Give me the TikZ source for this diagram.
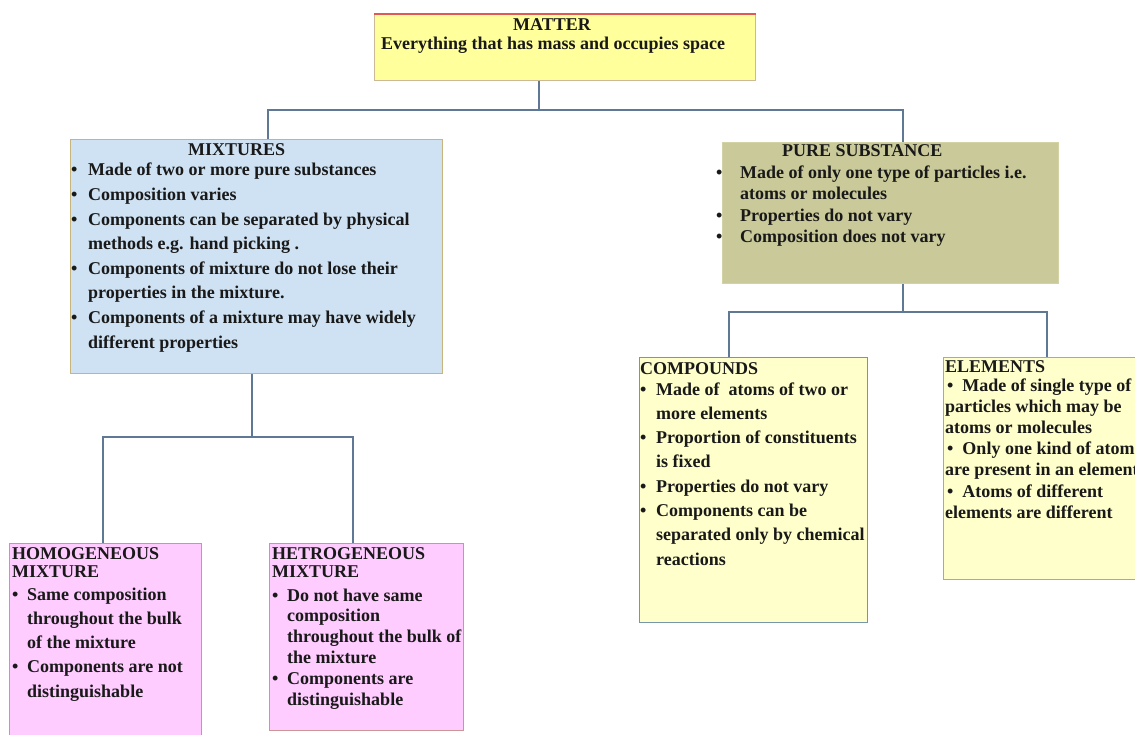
\documentclass[tikz,border=0pt]{standalone}
\usepackage{fontspec}
\setmainfont{Liberation Serif}
\definecolor{matfill}{RGB}{255,255,155}
\definecolor{matdraw}{RGB}{205,185,150}
\definecolor{mattop}{RGB}{225,90,80}
\definecolor{mixfill}{RGB}{207,226,243}
\definecolor{mixdraw}{RGB}{200,180,125}
\definecolor{purefill}{RGB}{201,201,154}
\definecolor{puredraw}{RGB}{210,210,165}
\definecolor{yelfill}{RGB}{255,255,204}
\definecolor{compdraw}{RGB}{120,150,170}
\definecolor{elemdraw}{RGB}{160,170,180}
\definecolor{pinkfill}{RGB}{255,204,255}
\definecolor{pinkdraw}{RGB}{205,150,150}
\definecolor{connc}{RGB}{95,120,150}
\newlength\bw
\newcommand\vl[2]{\vtop{\baselineskip=#1\lineskiplimit=-\maxdimen\lineskip=0pt\relax #2}}
\newcommand\bi[1]{\hbox{\makebox[\bw][l]{\textbullet}#1}}
\newcommand\ci[1]{\hbox{\hspace*{\bw}#1}}
\newcommand\hl[1]{\hbox{#1}}
\tikzset{
  x=1pt, y=-1pt,
  box/.style={rectangle, anchor=north west, inner sep=0pt, line width=1.3pt},
  txt/.style={anchor=base west, inner sep=0pt, font=\fontsize{18}{22}\selectfont\bfseries, text=black!90},
  conn/.style={draw=connc, line width=1.4pt},
}
\begin{document}
\begin{tikzpicture}
\useasboundingbox (0,0) rectangle (1135,735);
\clip (0,0) rectangle (1135,735);
% boxes
\node[box, fill=matfill, draw=matdraw, minimum width=381pt, minimum height=66pt] (matter) at (374,14) {};
\draw[mattop, line width=1.3pt] (matter.north west) -- (matter.north east);
\node[box, fill=mixfill, draw=mixdraw, minimum width=372pt, minimum height=234pt] (mix) at (70,139) {};
\node[box, fill=purefill, draw=puredraw, minimum width=336pt, minimum height=141pt] (pure) at (722,142) {};
\node[box, fill=yelfill, draw=compdraw, minimum width=228pt, minimum height=265pt] (comp) at (639,357) {};
\node[box, fill=yelfill, draw=elemdraw, minimum width=202pt, minimum height=222pt] (elem) at (943,357) {};
\node[box, fill=pinkfill, draw=pinkdraw, minimum width=192pt, minimum height=202pt] (homo) at (9,543) {};
\node[box, fill=pinkfill, draw=pinkdraw, minimum width=194pt, minimum height=187pt] (hetro) at (269,543) {};
% connectors
\coordinate (j1) at (539,110);
\coordinate (xm) at (268,0);
\coordinate (xp) at (903,0);
\draw[conn] (matter.south -| j1) -- (j1);
\draw[conn] (mix.north -| xm) |- (j1) -| (pure.north -| xp);
\coordinate (j2) at (903,312);
\coordinate (xc) at (729,0);
\coordinate (xe) at (1047,0);
\draw[conn] (pure.south -| j2) -- (j2);
\draw[conn] (comp.north -| xc) |- (j2) -| (elem.north -| xe);
\coordinate (j3) at (252,437);
\coordinate (xh) at (103,0);
\coordinate (xt) at (353,0);
\draw[conn] (mix.south -| j3) -- (j3);
\draw[conn] (homo.north -| xh) |- (j3) -| (hetro.north -| xt);
% texts
\node[txt] (matter-t) at (381,31) {\vl{19pt}{%
  \hl{\kern132pt MATTER}%
  \hl{Everything that has mass and occupies space}}};
\node[txt] (mix-t) at (71,156) {\vl{24.6pt}{\bw=17pt
  \hl{\kern117pt MIXTURES}\kern-4.6pt
  \bi{Made of two or more pure substances}
  \bi{Composition varies}
  \bi{Components can be separated by physical}
  \ci{methods e.g. hand picking .}
  \bi{Components of mixture do not lose their}
  \ci{properties in the mixture.}
  \bi{Components of a mixture may have widely}
  \ci{different properties}}};
\node[txt] (pure-t) at (716,157) {\vl{21.5pt}{\bw=24pt
  \hl{\kern66pt PURE SUBSTANCE}
  \bi{Made of only one type of particles i.e.}
  \ci{atoms or molecules}
  \bi{Properties do not vary}
  \bi{Composition does not vary}}};
\node[txt] (comp-t) at (640,374) {\vl{24.3pt}{\bw=16pt
  \hl{COMPOUNDS}\kern-3.3pt
  \bi{Made of\ \ atoms of two or}
  \ci{more elements}
  \bi{Proportion of constituents}
  \ci{is fixed}
  \bi{Properties do not vary}
  \bi{Components can be}
  \ci{separated only by chemical}
  \ci{reactions}}};
\node[txt] (elem-t) at (945,372) {\vl{21.2pt}{%
  \hl{ELEMENTS}\kern-2.2pt
  \hl{\kern2pt\textbullet\ \ Made of single type of}
  \hl{particles which may be}
  \hl{atoms or molecules}
  \hl{\kern2pt\textbullet\ \ Only one kind of atoms}
  \hl{are present in an element}
  \hl{\kern2pt\textbullet\ \ Atoms of different}
  \hl{elements are different}}};
\node[txt] (homo-t) at (12,559) {\vl{24.3pt}{\bw=15pt
  \hl{HOMOGENEOUS}\kern-6.3pt
  \hl{MIXTURE}\kern-1.3pt
  \bi{Same composition}
  \ci{throughout the bulk}
  \ci{of the mixture}
  \bi{Components are not}
  \ci{distinguishable}}};
\node[txt] (hetro-t) at (272,559) {\vl{20.8pt}{\bw=15pt
  \hl{HETROGENEOUS}\kern-2.8pt
  \hl{MIXTURE}\kern3.2pt
  \bi{Do not have same}
  \ci{composition}
  \ci{throughout the bulk of}
  \ci{the mixture}
  \bi{Components are}
  \ci{distinguishable}}};
\end{tikzpicture}
\end{document}
